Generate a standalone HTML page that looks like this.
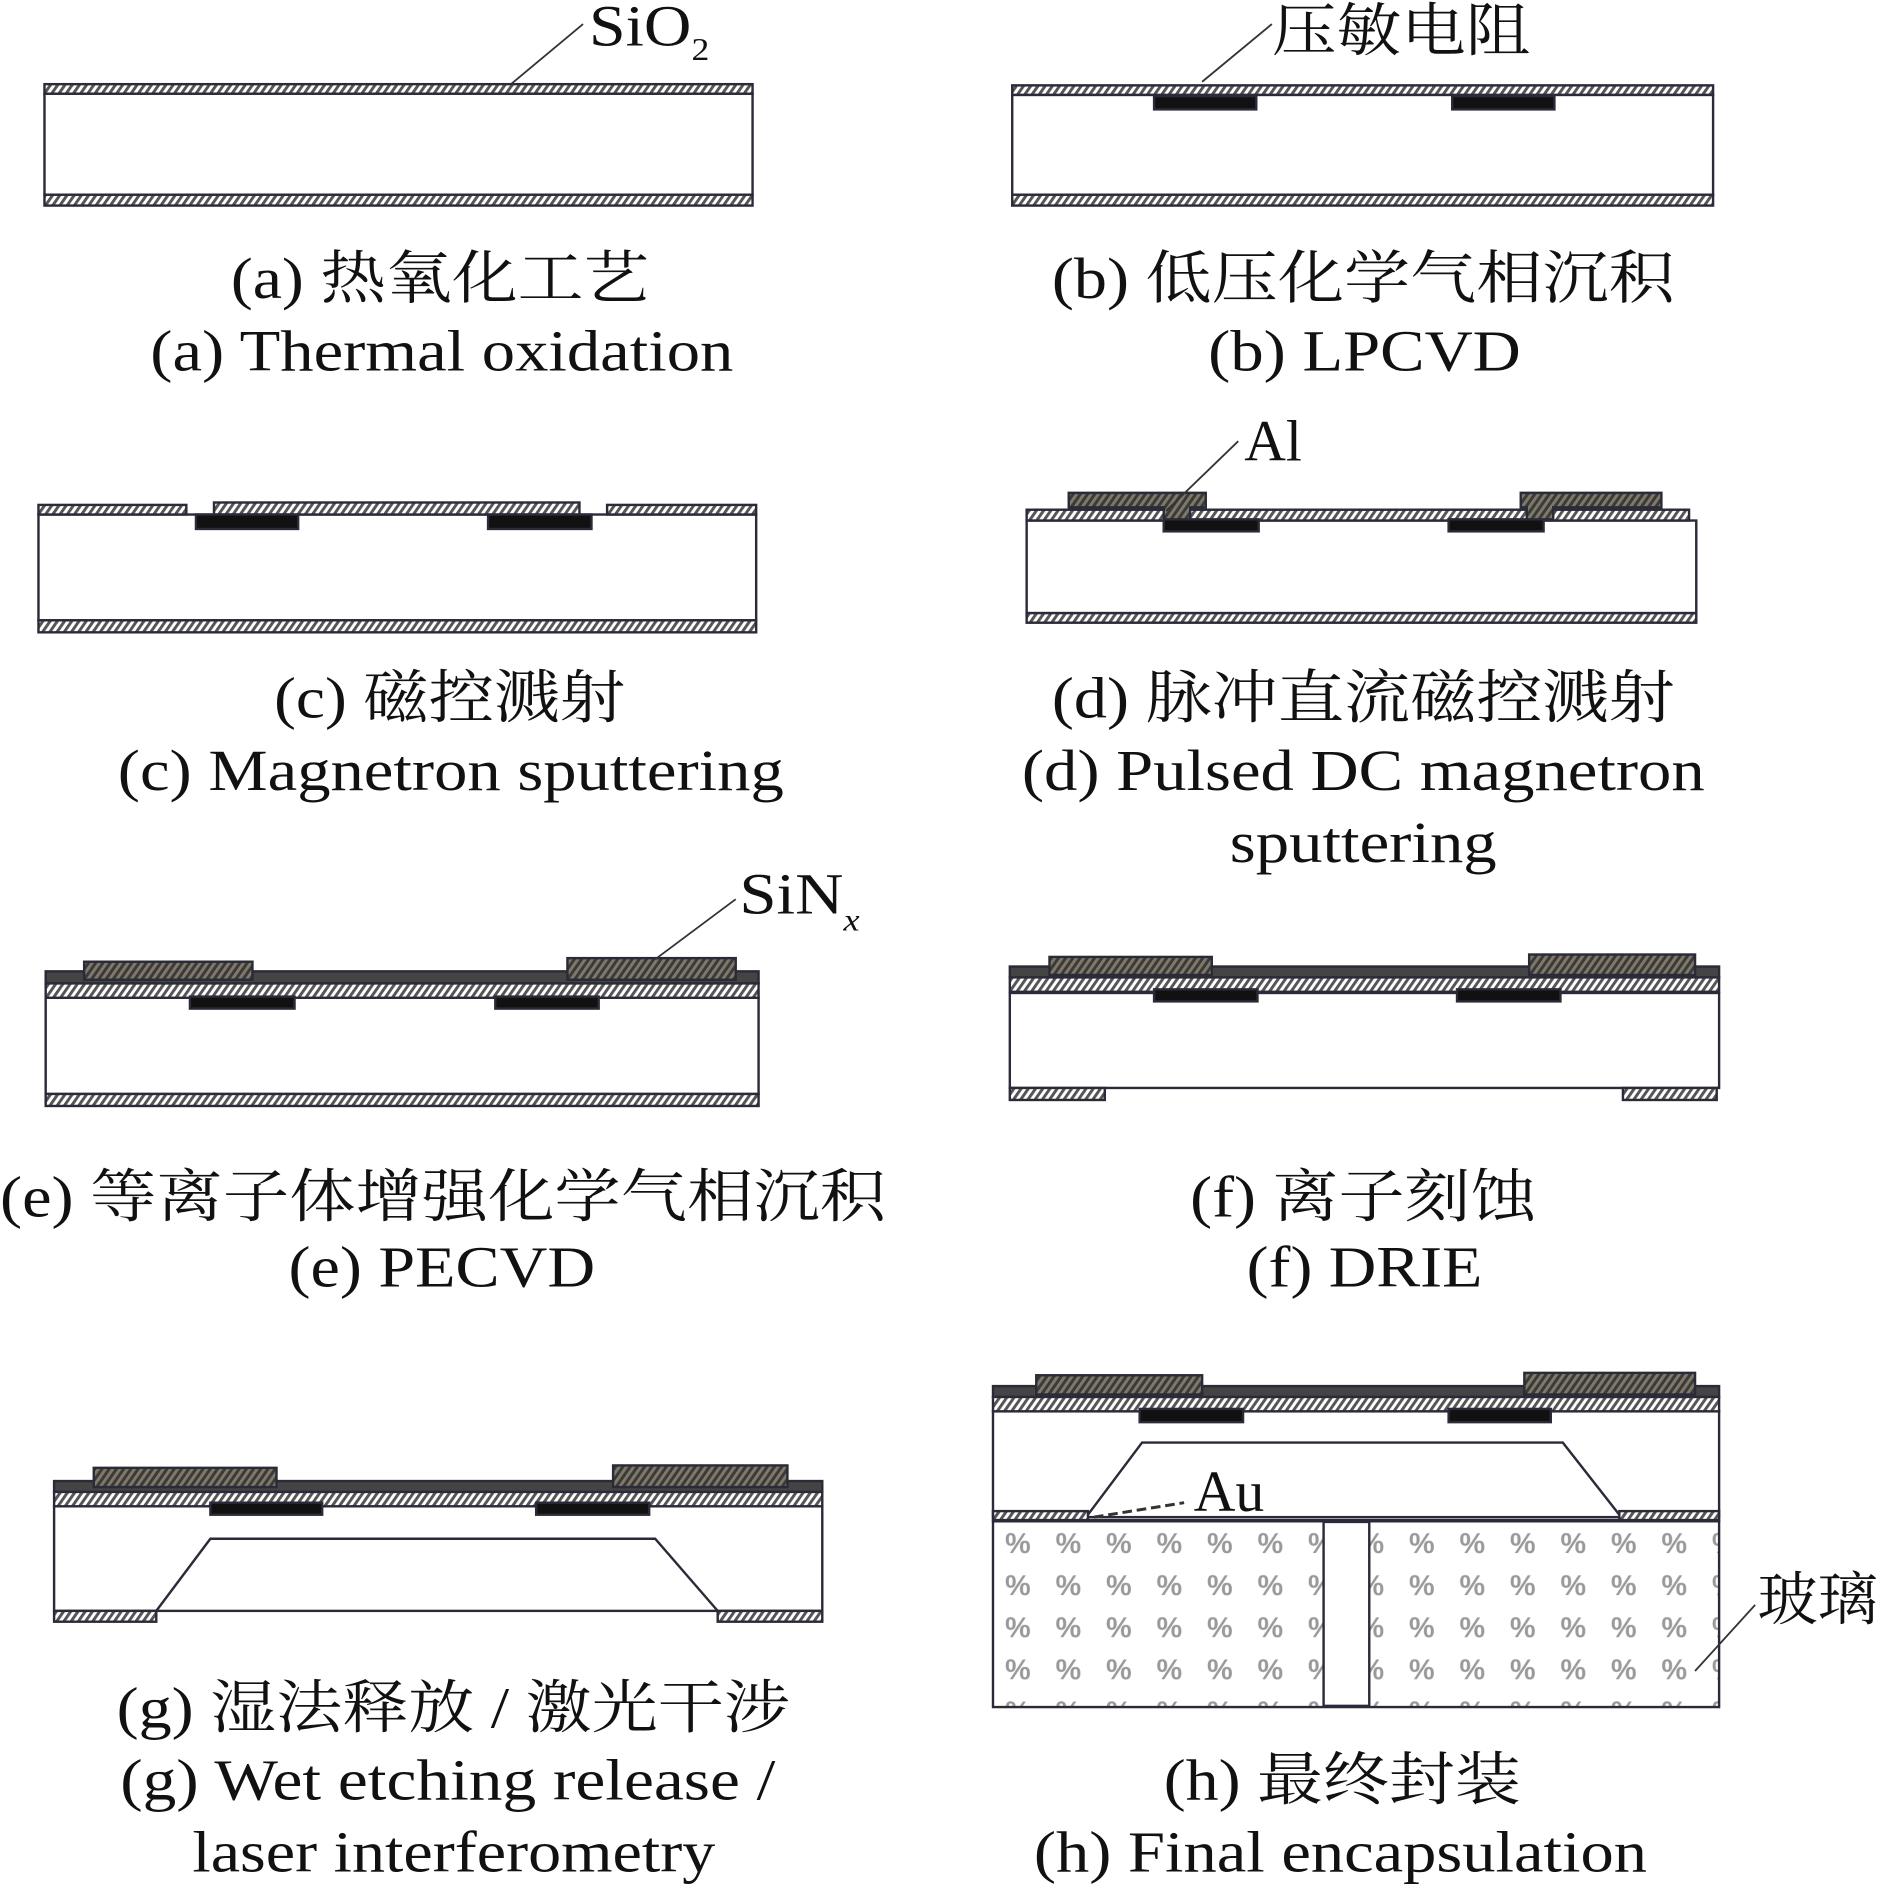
<!DOCTYPE html>
<html><head><meta charset="utf-8"><style>html,body{margin:0;padding:0;background:#fff}svg{display:block}</style></head>
<body>
<svg width="1885" height="1897" viewBox="0 0 1568 1578" preserveAspectRatio="none" xmlns="http://www.w3.org/2000/svg">
<defs>
<pattern id="ox" width="6" height="8" patternUnits="userSpaceOnUse" patternTransform="skewX(-35)">
<rect width="6" height="8" fill="#fff"/><rect width="3" height="8" fill="#555"/></pattern>
<pattern id="al" width="6" height="8" patternUnits="userSpaceOnUse" patternTransform="skewX(-35)">
<rect width="6" height="8" fill="#3a3a3a"/><rect width="3" height="8" fill="#807868"/></pattern>
<pattern id="gl" width="42" height="35" patternUnits="userSpaceOnUse" x="833" y="1268">
<rect width="42" height="35" fill="#fff"/><text x="3" y="24" font-family="Liberation Sans" font-weight="bold" font-size="24" fill="#999">%</text></pattern>
</defs>
<g stroke="#2a2a38" stroke-width="2">
<rect x="37" y="70" width="589" height="8" fill="url(#ox)"/>
<rect x="37" y="78" width="589" height="84" fill="#fff"/>
<rect x="37" y="162" width="589" height="9" fill="url(#ox)"/>
<rect x="842" y="71" width="583" height="8" fill="url(#ox)"/>
<rect x="842" y="79" width="583" height="83" fill="#fff"/>
<rect x="842" y="162" width="583" height="9" fill="url(#ox)"/>
<rect x="960" y="80" width="85" height="11" fill="#111"/>
<rect x="1208" y="80" width="85" height="11" fill="#111"/>
<rect x="32" y="428" width="597" height="88" fill="#fff"/>
<rect x="32" y="516" width="597" height="10" fill="url(#ox)"/>
<rect x="32" y="420" width="123" height="8" fill="url(#ox)"/>
<rect x="178" y="418" width="304" height="10" fill="url(#ox)"/>
<rect x="505" y="420" width="124" height="8" fill="url(#ox)"/>
<rect x="163" y="428" width="85" height="12" fill="#111"/>
<rect x="406" y="428" width="86" height="12" fill="#111"/>
<rect x="854" y="433" width="557" height="77" fill="#fff"/>
<rect x="854" y="510" width="557" height="8" fill="url(#ox)"/>
<rect x="854" y="424" width="551" height="9" fill="url(#ox)"/>
<rect x="968" y="432" width="79" height="10" fill="#111"/>
<rect x="1205" y="432" width="79" height="10" fill="#111"/>
<path d="M889 410H1003V422H990V432H968V422H889Z" fill="url(#al)"/>
<path d="M1265 410H1382V422H1292V432H1270V422H1265Z" fill="url(#al)"/>
<rect x="38" y="830" width="593" height="80" fill="#fff"/>
<rect x="38" y="910" width="593" height="10" fill="url(#ox)"/>
<rect x="38" y="818" width="593" height="12" fill="url(#ox)"/>
<rect x="38" y="808" width="593" height="10" fill="#444"/>
<rect x="158" y="829" width="87" height="10" fill="#111"/>
<rect x="412" y="829" width="86" height="10" fill="#111"/>
<rect x="70" y="800" width="140" height="15" fill="url(#al)"/>
<rect x="472" y="797" width="140" height="18" fill="url(#al)"/>
<rect x="840" y="826" width="590" height="79" fill="#fff"/>
<rect x="840" y="813" width="590" height="12" fill="url(#ox)"/>
<rect x="840" y="804" width="590" height="9" fill="#444"/>
<rect x="960" y="823" width="86" height="10" fill="#111"/>
<rect x="1212" y="823" width="86" height="10" fill="#111"/>
<rect x="873" y="796" width="135" height="15" fill="url(#al)"/>
<rect x="1272" y="794" width="138" height="17" fill="url(#al)"/>
<rect x="840" y="905" width="79" height="10" fill="url(#ox)"/>
<rect x="1350" y="905" width="78" height="10" fill="url(#ox)"/>
<rect x="45" y="1253" width="639" height="87" fill="#fff"/>
<rect x="45" y="1241" width="639" height="12" fill="url(#ox)"/>
<rect x="45" y="1232" width="639" height="9" fill="#444"/>
<rect x="175" y="1250" width="93" height="10" fill="#111"/>
<rect x="446" y="1250" width="94" height="10" fill="#111"/>
<rect x="78" y="1221" width="152" height="16" fill="url(#al)"/>
<rect x="510" y="1219" width="145" height="18" fill="url(#al)"/>
<rect x="45" y="1340" width="85" height="9" fill="url(#ox)"/>
<rect x="597" y="1340" width="87" height="9" fill="url(#ox)"/>
<path d="M130 1340L175 1280H545L597 1340" fill="none"/>
<line x1="130" y1="1340" x2="597" y2="1340" stroke-width="1"/>
<rect x="826" y="1174" width="604" height="88" fill="#fff"/>
<rect x="826" y="1162" width="604" height="12" fill="url(#ox)"/>
<rect x="826" y="1153" width="604" height="9" fill="#444"/>
<rect x="948" y="1172" width="86" height="11" fill="#111"/>
<rect x="1205" y="1172" width="85" height="11" fill="#111"/>
<rect x="862" y="1144" width="138" height="16" fill="url(#al)"/>
<rect x="1268" y="1142" width="142" height="18" fill="url(#al)"/>
<path d="M905 1260L950 1200H1300L1347 1260" fill="none"/>
<rect x="826" y="1257" width="79" height="8" fill="url(#ox)"/>
<rect x="1347" y="1257" width="83" height="8" fill="url(#ox)"/>
<rect x="826" y="1265" width="604" height="155" fill="url(#gl)"/>
<rect x="1101" y="1266" width="38" height="153" fill="#fff"/>
<line x1="826" y1="1265" x2="1430" y2="1265" stroke-width="3"/>
</g>
<g stroke="#333" stroke-width="1.5" fill="none">
<line x1="425" y1="70" x2="485" y2="20"/>
<line x1="1000" y1="68" x2="1058" y2="20"/>
<line x1="970" y1="425" x2="1030" y2="367"/>
<line x1="545" y1="798" x2="612" y2="748"/>
<line x1="910" y1="1262" x2="985" y2="1250" stroke-dasharray="8,4" stroke-width="2.5"/>
<line x1="1410" y1="1390" x2="1460" y2="1335"/>
</g>
<g font-family="Liberation Serif, Noto Serif CJK SC, serif" font-size="48" fill="#111" lengthAdjust="spacingAndGlyphs">
<text x="490" y="38" textLength="100" lengthAdjust="spacingAndGlyphs">SiO<tspan font-size="26" dy="12">2</tspan></text>
<text x="1058" y="42" font-family="Noto Serif CJK SC, serif" textLength="215" lengthAdjust="spacingAndGlyphs">压敏电阻</text>
<text x="1035" y="383">Al</text>
<text x="615" y="760" textLength="100" lengthAdjust="spacingAndGlyphs">SiN<tspan font-size="26" dy="14" font-style="italic">x</tspan></text>
<text x="993" y="1257">Au</text>
<text x="1462" y="1347" font-family="Noto Serif CJK SC, serif" textLength="100" lengthAdjust="spacingAndGlyphs">玻璃</text>
</g>
<g font-family="Liberation Serif, Noto Serif CJK SC, serif" font-size="48" fill="#111">
<text x="192" y="248" textLength="348" lengthAdjust="spacingAndGlyphs">(a) 热氧化工艺</text>
<text x="125" y="308" textLength="485" lengthAdjust="spacingAndGlyphs">(a) Thermal oxidation</text>
<text x="875" y="248" textLength="518" lengthAdjust="spacingAndGlyphs">(b) 低压化学气相沉积</text>
<text x="1005" y="308" textLength="260" lengthAdjust="spacingAndGlyphs">(b) LPCVD</text>
<text x="228" y="597" textLength="292" lengthAdjust="spacingAndGlyphs">(c) 磁控溅射</text>
<text x="98" y="657" textLength="554" lengthAdjust="spacingAndGlyphs">(c) Magnetron sputtering</text>
<text x="875" y="597" textLength="518" lengthAdjust="spacingAndGlyphs">(d) 脉冲直流磁控溅射</text>
<text x="850" y="657" textLength="568" lengthAdjust="spacingAndGlyphs">(d) Pulsed DC magnetron</text>
<text x="1023" y="717" textLength="222" lengthAdjust="spacingAndGlyphs">sputtering</text>
<text x="0" y="1012" textLength="737" lengthAdjust="spacingAndGlyphs">(e) 等离子体增强化学气相沉积</text>
<text x="240" y="1070" textLength="255" lengthAdjust="spacingAndGlyphs">(e) PECVD</text>
<text x="990" y="1012" textLength="288" lengthAdjust="spacingAndGlyphs">(f) 离子刻蚀</text>
<text x="1037" y="1070" textLength="196" lengthAdjust="spacingAndGlyphs">(f) DRIE</text>
<text x="97" y="1437" textLength="560" lengthAdjust="spacingAndGlyphs">(g) 湿法释放 / 激光干涉</text>
<text x="100" y="1497" textLength="545" lengthAdjust="spacingAndGlyphs">(g) Wet etching release /</text>
<text x="160" y="1557" textLength="435" lengthAdjust="spacingAndGlyphs">laser interferometry</text>
<text x="968" y="1497" textLength="297" lengthAdjust="spacingAndGlyphs">(h) 最终封装</text>
<text x="860" y="1557" textLength="510" lengthAdjust="spacingAndGlyphs">(h) Final encapsulation</text>
</g>
</svg>
</body></html>
